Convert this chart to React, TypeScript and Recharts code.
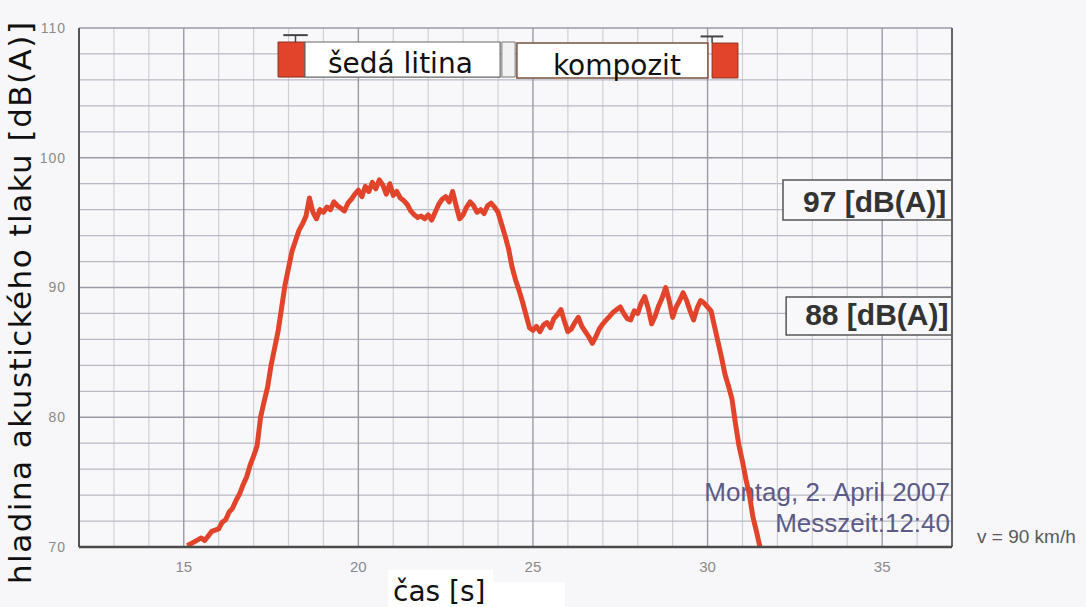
import React from "react";
import {
  LineChart, Line, XAxis, YAxis, CartesianGrid, ReferenceArea, ReferenceLine,
} from "recharts";

// time axis [s] and measured sound pressure level [dB(A)]
const times = [
  15.1, 15.3, 15.5, 15.6, 15.8, 16.0, 16.1, 16.2, 16.3, 16.4, 16.5, 16.6, 16.7, 16.8, 16.9,
  17.0, 17.1, 17.2, 17.3, 17.4, 17.5, 17.6, 17.7, 17.8, 17.9, 18.0, 18.1, 18.2, 18.3, 18.4,
  18.5, 18.6, 18.7, 18.8, 18.9, 19.0, 19.1, 19.2, 19.3, 19.4, 19.5, 19.6, 19.7, 19.8, 19.9,
  20.0, 20.1, 20.2, 20.3, 20.4, 20.5, 20.6, 20.7, 20.8, 20.9, 21.0, 21.1, 21.2, 21.3, 21.4,
  21.5, 21.6, 21.7, 21.8, 21.9, 22.0, 22.1, 22.2, 22.3, 22.4, 22.5, 22.6, 22.7, 22.8, 22.9,
  23.0, 23.1, 23.2, 23.3, 23.4, 23.5, 23.6, 23.7, 23.8, 23.9, 24.0, 24.1, 24.2, 24.3, 24.4,
  24.5, 24.6, 24.7, 24.8, 24.9, 25.0, 25.1, 25.2, 25.3, 25.4, 25.5, 25.6, 25.7, 25.8, 25.9,
  26.0, 26.1, 26.2, 26.3, 26.4, 26.5, 26.6, 26.7, 26.8, 26.9, 27.0, 27.1, 27.2, 27.3, 27.4,
  27.5, 27.6, 27.7, 27.8, 27.9, 28.0, 28.1, 28.2, 28.3, 28.4, 28.5, 28.6, 28.7, 28.8, 28.9,
  29.0, 29.1, 29.2, 29.3, 29.4, 29.5, 29.6, 29.7, 29.8, 29.9, 30.0, 30.1, 30.2, 30.3, 30.4,
  30.5, 30.6, 30.7, 30.8, 30.9, 31.0, 31.1, 31.2, 31.3, 31.4, 31.5,
];
const levels = [
  70.1, 70.4, 70.7, 70.5, 71.2, 71.4, 71.9, 72.1, 72.7, 73.0, 73.6, 74.1, 74.8, 75.4, 76.3,
  77.0, 77.8, 80.0, 81.2, 82.3, 84.0, 85.3, 86.6, 88.4, 90.2, 91.5, 92.8, 93.6, 94.4, 94.9,
  95.5, 96.9, 95.8, 95.3, 96.0, 95.8, 96.2, 96.0, 96.6, 96.3, 96.1, 95.9, 96.5, 96.8, 97.2,
  97.5, 97.0, 97.8, 97.4, 98.1, 97.6, 98.3, 97.9, 97.2, 98.0, 97.1, 97.4, 96.9, 96.7, 96.4,
  95.9, 95.6, 95.4, 95.5, 95.3, 95.6, 95.2, 95.8, 96.4, 96.8, 97.0, 96.6, 97.4, 96.3, 95.3,
  95.6, 96.2, 96.6, 96.3, 95.8, 96.0, 95.7, 96.3, 96.5, 96.2, 95.8, 94.9, 94.0, 93.0, 91.6,
  90.6, 89.8, 88.9, 87.9, 86.9, 86.7, 87.0, 86.6, 87.1, 87.3, 86.9, 87.6, 87.9, 88.3, 87.4,
  86.6, 86.8, 87.3, 87.7, 87.0, 86.6, 86.2, 85.7, 86.2, 86.8, 87.2, 87.5, 87.8, 88.1, 88.3,
  88.5, 88.0, 87.6, 87.5, 88.2, 88.0, 88.8, 89.3, 88.4, 87.2, 87.8, 88.6, 89.2, 90.0, 89.0,
  87.7, 88.5, 89.0, 89.6, 89.0, 88.2, 87.5, 88.4, 89.0, 88.8, 88.5, 88.2, 87.0, 85.8, 84.6,
  83.3, 82.4, 81.4, 79.5, 77.8, 76.6, 75.2, 74.0, 72.3, 71.2, 70.0,
];

const xTicks = [15, 20, 25, 30, 35];
const yTicks = [70, 80, 90, 100, 110];
const xMinor = [13, 14, 16, 17, 18, 19, 21, 22, 23, 24, 26, 27, 28, 29, 31, 32, 33, 34, 36];
const yMinor = [72, 74, 76, 78, 82, 84, 86, 88, 92, 94, 96, 98, 102, 104, 106, 108];

const segmentLabels = ["šedá litina", "kompozit"];
const levelLabels = ["97 [dB(A)]", "88 [dB(A)]"];
const stampLines = ["Montag, 2. April 2007", "Messzeit:12:40"];
const speedNote = "v = 90 km/h";
const yTitle = "hladina akustického tlaku [dB(A)]";
const xTitle = "čas [s]";

const data = times.map((t, i) => ({ t, spl: levels[i] }));

const RED = "#e2442b";
const sans = "'DejaVu Sans', Verdana, sans-serif";
const arial = "'Liberation Sans', Arial, sans-serif";

const boxLabel = (text: string, dx: number, dy: number, style: React.CSSProperties) =>
  (props: any) => {
    const vb = props.viewBox || {};
    return (
      <text x={vb.x + dx} y={vb.y + dy} style={style}>
        {text}
      </text>
    );
  };

export default function App() {
  return (
    <div style={{ position: "absolute", left: 0, top: 0, width: 1086, height: 607, background: "#f7f7f9" }}>
      <LineChart width={1086} height={607} data={data} margin={{ top: 28, right: 134, bottom: 30, left: 0 }}>
        <CartesianGrid
          horizontal={false}
          verticalValues={xMinor}
          stroke="#d0d0d8"
          strokeWidth={1.2}
          fill="#f8f8fa"
        />
        <CartesianGrid
          vertical={false}
          horizontalValues={yMinor}
          stroke="#b9b9c3"
          strokeWidth={1.3}
        />
        <CartesianGrid
          horizontalValues={[80, 90, 100, 110]}
          verticalValues={xTicks}
          stroke="#9a9aa6"
          strokeWidth={1.4}
        />
        <XAxis
          type="number"
          dataKey="t"
          domain={[12, 37]}
          ticks={xTicks}
          height={30}
          tickLine={false}
          tickSize={0}
          tickMargin={14}
          axisLine={{ stroke: "#4a4a4a", strokeWidth: 2.5 }}
          tick={{ fill: "#8a8a8a", fontSize: 15, fontFamily: arial }}
          label={() => (
            <g>
              <rect x={388} y={570} width={105} height={37} fill="#ffffff" />
              <rect x={388} y={582} width={177} height={25} fill="#ffffff" />
              <text x={393} y={601} style={{ fontFamily: sans, fontSize: 28, fill: "#111" }}>
                {xTitle}
              </text>
            </g>
          )}
        />
        <YAxis
          type="number"
          domain={[70, 110]}
          ticks={yTicks}
          width={79}
          tickLine={false}
          tickSize={0}
          tickMargin={13}
          axisLine={{ stroke: "#555", strokeWidth: 2 }}
          tick={{ fill: "#8a8a8a", fontSize: 14, fontFamily: arial, letterSpacing: 1 }}
          label={() => (
            <text
              x={31}
              y={303}
              transform="rotate(-90 31 303)"
              textAnchor="middle"
              textLength={562}
              lengthAdjust="spacing"
              style={{ fontFamily: sans, fontSize: 31, fill: "#111" }}
            >
              {yTitle}
            </text>
          )}
        />
        <ReferenceLine x={37} stroke="#666" strokeWidth={2} />

        {/* segment labels at the top */}
        <ReferenceArea x1={17.7} x2={18.47} y1={106.22} y2={108.92} fill={RED} fillOpacity={1} stroke="#8a3020" />
        <ReferenceArea
          x1={18.47} x2={24.06} y1={106.22} y2={108.92}
          fill="#ffffff" fillOpacity={1} stroke="#666" strokeWidth={1.2}
          label={boxLabel(segmentLabels[0], 23, 31, { fontFamily: sans, fontSize: 28, fill: "#111" })}
        />
        <ReferenceArea x1={24.11} x2={24.49} y1={106.22} y2={108.92} fill="#f2f2f2" fillOpacity={1} stroke="#777" />
        <ReferenceArea
          x1={24.54} x2={30.01} y1={106.15} y2={108.84}
          fill="#ffffff" fillOpacity={1} stroke="#7a5240" strokeWidth={1.5}
          label={boxLabel(segmentLabels[1], 36, 32, { fontFamily: sans, fontSize: 28, fill: "#111" })}
        />
        <ReferenceArea x1={30.13} x2={30.87} y1={106.15} y2={108.84} fill={RED} fillOpacity={1} stroke="#8a3020" />
        <ReferenceLine segment={[{ x: 17.85, y: 109.45 }, { x: 18.55, y: 109.45 }]} stroke="#444" strokeWidth={2} />
        <ReferenceLine segment={[{ x: 18.2, y: 109.45 }, { x: 18.2, y: 108.92 }]} stroke="#444" strokeWidth={1.5} />
        <ReferenceLine segment={[{ x: 29.8, y: 109.35 }, { x: 30.45, y: 109.35 }]} stroke="#444" strokeWidth={2} />
        <ReferenceLine segment={[{ x: 30.13, y: 109.35 }, { x: 30.13, y: 108.84 }]} stroke="#444" strokeWidth={1.5} />

        {/* level boxes on the right */}
        <ReferenceArea
          x1={32.16} x2={37} y1={95.2} y2={98.29}
          fill="#f8f8fa" fillOpacity={1} stroke="#555" strokeWidth={1.5}
          label={boxLabel(levelLabels[0], 20, 32, { fontFamily: arial, fontWeight: 700, fontSize: 30, fill: "#333" })}
        />
        <ReferenceArea
          x1={32.25} x2={37} y1={86.34} y2={89.27}
          fill="#f8f8fa" fillOpacity={1} stroke="#555" strokeWidth={1.5}
          label={boxLabel(levelLabels[1], 19, 28, { fontFamily: arial, fontWeight: 700, fontSize: 30, fill: "#333" })}
        />

        {/* measurement stamp */}
        <ReferenceArea
          x1={30.2} x2={37} y1={70.2} y2={73.5}
          fill="none" stroke="none"
          label={(props: any) => {
            const vb = props.viewBox || {};
            const right = vb.x + vb.width - 2;
            return (
              <g style={{ fontFamily: arial, fontSize: 26, fill: "#5c5a86" }}>
                <text x={right} y={vb.y - 1} textAnchor="end">{stampLines[0]}</text>
                <text x={right} y={vb.y + 30} textAnchor="end">{stampLines[1]}</text>
                <text x={vb.x + vb.width + 25} y={vb.y + 41} style={{ fontSize: 19, fill: "#5a5a5a" }}>
                  {speedNote}
                </text>
              </g>
            );
          }}
        />

        <Line
          type="linear"
          dataKey="spl"
          stroke={RED}
          strokeWidth={5}
          strokeLinejoin="round"
          dot={false}
          isAnimationActive={false}
        />
      </LineChart>
    </div>
  );
}
